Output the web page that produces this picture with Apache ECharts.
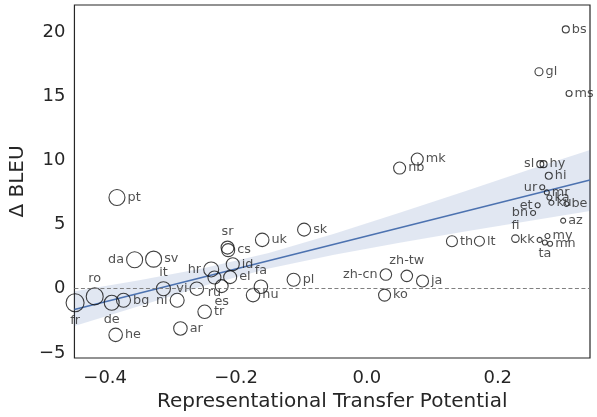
<!DOCTYPE html>
<html>
<head>
<meta charset="utf-8">
<script src="https://cdn.jsdelivr.net/npm/echarts@6/dist/echarts.min.js"></script>
<style>html,body{margin:0;padding:0;background:#fff}#c{width:597px;height:417px}</style>
</head>
<body>
<div id="c"></div>
<script>
// ---- data ----
const langs = ["bs","gl","ms","mk","nb","th","lt","zh-cn","zh-tw","ja","ko",
  "sl","hy","hi","ur","mr","ka","ku","be","et","bn","az","fi","kk","ta","my","mn",
  "pt","da","sv","ro","fr","de","bg","it","nl","vi","hr","tr","ar","he",
  "sr","cs","id","el","ru","es","fa","hu","uk","sk","pl"];
const rtp = [0.304,0.263,0.309,0.077,0.050,0.130,0.172,0.029,0.061,0.085,0.027,
  0.265,0.270,0.278,0.268,0.275,0.279,0.282,0.305,0.261,0.254,0.300,0.227,0.264,0.272,0.276,0.280,
  -0.382,-0.355,-0.326,-0.416,-0.446,-0.390,-0.372,-0.311,-0.290,-0.260,-0.238,-0.248,-0.285,-0.384,
  -0.213,-0.212,-0.205,-0.209,-0.233,-0.222,-0.162,-0.174,-0.160,-0.096,-0.112];
const dBleu = [20.2,16.9,15.2,10.1,9.4,3.7,3.7,1.1,1.0,0.6,-0.5,
  9.7,9.7,8.8,7.9,7.5,7.1,6.7,6.6,6.5,5.9,5.3,3.9,3.8,3.6,4.1,3.5,
  7.1,2.25,2.3,-0.6,-1.1,-1.1,-0.9,0.0,-0.9,0.0,1.5,-1.8,-3.1,-3.6,
  3.2,3.0,1.9,0.9,0.87,0.2,0.15,-0.5,3.8,4.6,0.7];
// marker diameter (encodes a data quantity in the original)
const markerSize = [7,8,6,12,12,11,10,11.5,11.5,12,12,
  7,7,7,5,5,5,5,5,5,5,5,7.5,5,5,5,5,
  16,16,16,17,18,15,14,14,14,13.5,15,13.5,13.5,13.5,
  13,13,13,13,13,13,13.5,13.5,13.5,13,13];
// regression line and its confidence band
const lineX = [-0.447, 0.341];
const lineY = [-1.62, 8.46];
const bandX = [-0.447,-0.35,-0.25,-0.15,-0.05,0.05,0.15,0.25,0.341];
const bandLow = [-2.9,-1.39,0.20,1.58,2.65,3.57,4.45,5.30,6.06];
const bandHigh = [-0.2,0.63,1.60,2.78,4.27,5.91,7.59,9.30,10.80];
const xTicks = [-0.4,-0.2,0.0,0.2];
const yTicks = [-5,0,5,10,15,20];

// ---- label placement (style) ----
const labelPlace = {
  "nb":["right",0,9],"zh-cn":["left",0,0],"zh-tw":["top",6,5],
  "sl":["left",0,-4],"hy":["right",0,-4],"hi":["right",0,-3],"ur":["left",0,-3],
  "mr":["right",-2,-8],"ka":["right",2,-5],"ku":["right",0,2],"be":["right",0,-7],"et":["left",0,1],
  "bn":["left",0,6],"az":["right",0,-4],"fi":["top",2,1],"kk":["left",0,-5],
  "ta":["bottom",-4,-3],"my":["right",0,-3],
  "da":["left",0,0],"ro":["top",0,1],"fr":["bottom",6,-2],"de":["bottom",-2,-1],
  "it":["top",0,1],"nl":["left",2,9],"vi":["left",2,0],"hr":["left",2,-4],
  "sr":["top",3,0],"id":["right",0,-7],"ru":["bottom",-3,-1],"es":["bottom",6,-2],
  "fa":["top",0,0],"hu":["right",0,7],"cs":["right",0,-2]
};

const FONT = "DejaVu Sans";
const TXT = "#262626";
const fmtMinus = v => (v < 0 ? "\u2212" : "") + Math.abs(v);

const points = langs.map((n, i) => {
  const p = labelPlace[n] || ["right", 0, 0];
  return {
    name: n,
    value: [rtp[i], dBleu[i]],
    symbolSize: markerSize[i],
    label: {show: true, formatter: n, position: p[0], distance: 2, offset: [p[1], p[2]]}
  };
});

const chart = echarts.init(document.getElementById('c'), null, {renderer: 'canvas'});
chart.setOption({
  animation: false,
  backgroundColor: '#fff',
  grid: {left: 72, right: 7, top: 5, bottom: 55, show: true, borderColor: '#262626', borderWidth: 1.2, backgroundColor: 'transparent'},
  xAxis: {
    type: 'value', min: -0.447, max: 0.341,
    name: 'Representational Transfer Potential', nameLocation: 'middle', nameGap: 34,
    nameTextStyle: {fontFamily: FONT, fontSize: 20, color: TXT},
    axisLine: {show: false}, axisTick: {show: false}, splitLine: {show: false},
    axisLabel: {customValues: xTicks, margin: 11, fontFamily: FONT, fontSize: 18, color: TXT,
      formatter: v => (v < 0 ? "\u2212" : "") + Math.abs(v).toFixed(1)}
  },
  yAxis: {
    type: 'value', min: -5.4, max: 22.1,
    name: '\u0394 BLEU', nameLocation: 'middle', nameGap: 42,
    nameTextStyle: {fontFamily: FONT, fontSize: 20, color: TXT},
    axisLine: {show: false}, axisTick: {show: false}, splitLine: {show: false},
    axisLabel: {customValues: yTicks, margin: 9, fontFamily: FONT, fontSize: 18, color: TXT,
      formatter: v => fmtMinus(v)}
  },
  series: [
    {
      type: 'custom', silent: true, clip: true, z: 1,
      data: bandX.map((x, i) => [x, bandLow[i], bandHigh[i]]),
      encode: {x: 0, y: [1, 2]},
      renderItem: (params, api) => {
        if (params.dataIndex !== 0) return null;
        const pts = [];
        for (let i = 0; i < bandX.length; i++) pts.push(api.coord([bandX[i], bandHigh[i]]));
        for (let i = bandX.length - 1; i >= 0; i--) pts.push(api.coord([bandX[i], bandLow[i]]));
        return {type: 'polygon', shape: {points: pts, smooth: 0}, style: {fill: 'rgba(76,114,176,0.17)', stroke: null}};
      }
    },
    {
      type: 'line', silent: true, z: 2, symbol: 'none',
      data: lineX.map((x, i) => [x, lineY[i]]),
      lineStyle: {color: '#4c72b0', width: 1.6},
      markLine: {
        silent: true, symbol: 'none', label: {show: false},
        lineStyle: {color: '#808080', type: [4, 2.5], width: 1},
        data: [{yAxis: 0}]
      }
    },
    {
      type: 'scatter', z: 3, data: points,
      symbol: 'circle',
      itemStyle: {color: 'rgba(255,255,255,0)', borderColor: '#111', borderWidth: 1.1},
      label: {fontFamily: FONT, fontSize: 12.8, color: TXT},
      labelLayout: {hideOverlap: false}
    }
  ]
});
</script>
</body>
</html>
